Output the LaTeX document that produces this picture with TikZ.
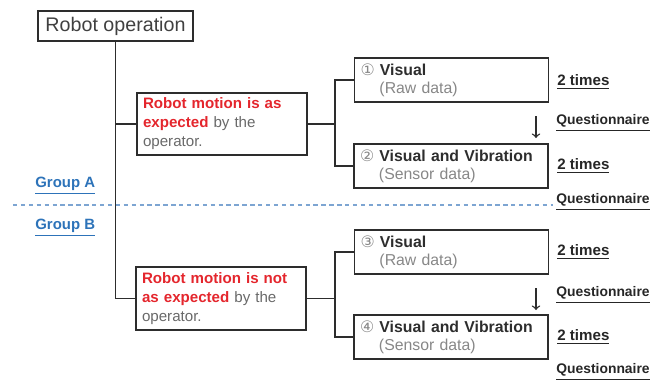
\documentclass[tikz,border=0pt]{standalone}
\usepackage{fontspec}
\setmainfont{Liberation Sans}
\newfontfamily\circfont{DejaVu Sans}
\definecolor{motred}{RGB}{228,38,45}
\definecolor{txtgray}{RGB}{105,105,105}
\definecolor{rawgray}{RGB}{135,135,135}
\definecolor{grpblue}{RGB}{45,115,185}
\definecolor{dashblue}{RGB}{125,165,210}
\definecolor{boxline}{RGB}{45,45,45}

\begin{document}
\begin{tikzpicture}[x=0.02cm, y=-0.02cm,
  box/.style={draw=boxline, line width=1.1pt, rectangle, inner xsep=0.12cm, inner ysep=0pt},
  motbox/.style={box, minimum width=3.4cm, minimum height=1.25cm, text width=3.16cm, align=left, font=\fontsize{8.6}{10.8}\selectfont},
  condbox/.style={box, minimum width=3.88cm, minimum height=0.88cm, text width=3.64cm, align=left, text=boxline, font=\fontsize{9}{10.2}\selectfont},
  link/.style={draw=boxline, line width=0.9pt},
  times/.style={anchor=west, inner sep=0pt, text=black!85, font=\bfseries\fontsize{8.6}{10}\selectfont},
  quest/.style={times, font=\bfseries\fontsize{7.9}{10}\selectfont},
  group/.style={anchor=west, inner sep=0pt, text=grpblue, font=\bfseries\fontsize{8.5}{10}\selectfont},
]
  \useasboundingbox (0,0) rectangle (654,380);

  % root and the two conditions
  \node[box, minimum width=3.1cm, minimum height=0.6cm, text=black!75, font=\fontsize{11.2}{13}\selectfont] (root) at (115.5,26) {Robot operation};
  \node[motbox] (motA) at (222,124) {\textcolor{motred}{\textbf{Robot motion is as}}\\ \textcolor{motred}{\textbf{expected}} \textcolor{txtgray}{by the}\\ \textcolor{txtgray}{operator.}};
  \node[motbox] (motB) at (221,298.5) {\textcolor{motred}{\textbf{Robot motion is not}}\\ \textcolor{motred}{\textbf{as expected}} \textcolor{txtgray}{by the}\\ \textcolor{txtgray}{operator.}};

  % the four conditions shown
  \node[condbox] (vis1) at (451.5,80) {{\circfont\textcolor{rawgray}{①}} \textbf{Visual}\\ \hspace*{1.2em}\textcolor{rawgray}{(Raw data)}};
  \node[condbox] (vib2) at (451,166) {{\circfont\textcolor{rawgray}{②}} \textbf{Visual and Vibration}\\ \hspace*{1.2em}\textcolor{rawgray}{(Sensor data)}};
  \node[condbox] (vis3) at (451.5,252) {{\circfont\textcolor{rawgray}{③}} \textbf{Visual}\\ \hspace*{1.2em}\textcolor{rawgray}{(Raw data)}};
  \node[condbox] (vib4) at (451,337) {{\circfont\textcolor{rawgray}{④}} \textbf{Visual and Vibration}\\ \hspace*{1.2em}\textcolor{rawgray}{(Sensor data)}};

  % tree lines
  \draw[link] (root.south) |- (motB.west);
  \draw[link] (root.south |- motA.west) -- (motA.west);
  \draw[link] (motA.east) -- ++(27,0) coordinate (jA);
  \draw[link] (vis1.west) -| (jA) |- (vib2.west);
  \draw[link] (motB.east) -- ++(28,0) coordinate (jB);
  \draw[link] (vis3.west) -| (jB) |- (vib4.west);

  % group split
  \coordinate (dashL) at (13,205);
  \coordinate (dashR) at (553,205);
  \draw[dashblue, line width=0.6pt, dash pattern=on 2.5pt off 2pt] (dashL) -- (dashR);
  \node[group] (grpA) at (35,186) {\underline{Group A}};
  \node[group] (grpB) at (35,228) {\underline{Group B}};

  % repetitions and questionnaires
  \node[times] (t1) at (557,82) {\underline{2 times}};
  \node[quest] (q1) at (556,123) {\underline{Questionnaire}};
  \node[times] (t2) at (557,166) {\underline{2 times}};
  \node[quest] (q2) at (556,202) {\underline{Questionnaire}};
  \node[times] (t3) at (557,252) {\underline{2 times}};
  \node[quest] (q3) at (556,295) {\underline{Questionnaire}};
  \node[times] (t4) at (557,337) {\underline{2 times}};
  \node[quest] (q4) at (556,372) {\underline{Questionnaire}};

  \coordinate (up1) at (536,116);
  \coordinate (dn1) at (536,138);
  \coordinate (up3) at (536,288);
  \coordinate (dn3) at (536,310);
  \draw[->, boxline, line width=0.8pt] (up1) -- (dn1);
  \draw[->, boxline, line width=0.8pt] (up3) -- (dn3);
\end{tikzpicture}
\end{document}
